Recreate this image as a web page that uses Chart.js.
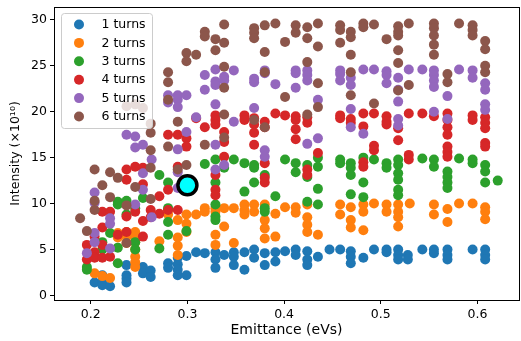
<!DOCTYPE html>
<html>
<head>
<meta charset="utf-8">
<script src="https://cdn.jsdelivr.net/npm/chart.js@4"></script>
<style>
  html, body { margin: 0; padding: 0; background: #fff; }
  #wrap { width: 521px; height: 341px; }
</style>
</head>
<body>
<div id="wrap"><canvas id="chart" width="521" height="341"></canvas></div>
<script>
/* Emittance vs intensity scatter, one series per number of turns */

const seriesLabels = ['1 turns', '2 turns', '3 turns', '4 turns', '5 turns', '6 turns'];
const seriesColors = ['#1f77b4', '#ff7f0e', '#2ca02c', '#d62728', '#9467bd', '#8c564b'];

const xTicks = [0.2, 0.3, 0.4, 0.5, 0.6];
const yTicks = [0, 5, 10, 15, 20, 25, 30];

// [emittance (eVs), intensity (x1e10)]
const turns1 = [
  [0.204,1.4],[0.212,2.2],[0.212,1.6],[0.212,1.1],[0.220,1.0],
  [0.237,3.3],[0.237,2.2],[0.237,1.8],[0.237,1.4],[0.254,3.1],[0.254,2.4],
  [0.262,2.7],[0.262,2.0],[0.280,3.5],[0.280,3.0],
  [0.290,4.1],[0.290,3.4],[0.290,2.8],[0.290,2.2],[0.299,4.3],[0.299,2.2],
  [0.309,4.7],[0.318,4.6],[0.329,4.7],[0.329,3.9],[0.329,3.0],[0.338,4.4],
  [0.348,4.7],[0.348,4.2],[0.348,3.3],[0.359,4.7],[0.359,2.8],
  [0.369,5.0],[0.369,4.1],[0.380,4.6],[0.380,3.3],[0.391,4.7],[0.391,3.7],
  [0.401,4.8],[0.412,5.0],[0.412,4.4],[0.424,4.8],[0.424,3.9],[0.424,3.3],
  [0.435,4.2],[0.447,5.0],[0.458,5.0],[0.469,4.8],[0.469,4.2],[0.469,3.5],
  [0.482,4.1],[0.493,5.0],[0.506,5.0],[0.506,4.7],[0.518,5.0],[0.518,4.4],[0.518,3.9],
  [0.528,4.4],[0.528,3.9],[0.543,5.0],[0.555,5.0],[0.555,4.6],
  [0.569,5.0],[0.569,4.4],[0.569,3.9],[0.595,5.0],[0.608,5.0],[0.608,4.4],[0.608,3.9]
];
const turns2 = [
  [0.204,2.4],[0.212,2.1],[0.220,1.9],[0.228,6.8],[0.228,6.3],
  [0.237,6.9],[0.237,6.4],[0.237,5.7],
  [0.246,6.9],[0.246,6.4],[0.246,5.8],[0.246,5.0],[0.246,4.2],[0.246,3.6],[0.246,3.1],
  [0.271,5.9],[0.280,9.3],[0.280,8.8],
  [0.290,8.2],[0.290,6.3],[0.290,5.4],[0.290,4.4],
  [0.299,8.8],[0.299,7.8],[0.299,6.9],[0.309,8.8],[0.318,9.5],[0.318,9.1],
  [0.329,9.5],[0.329,9.1],[0.329,6.6],[0.329,5.5],[0.338,9.5],[0.338,7.5],
  [0.348,9.5],[0.348,5.7],[0.359,9.9],[0.359,9.3],[0.359,8.8],
  [0.369,9.9],[0.369,9.1],[0.380,9.9],[0.380,8.2],[0.380,7.3],[0.380,6.2],
  [0.391,8.9],[0.391,6.4],[0.401,9.6],[0.412,9.6],[0.412,9.0],
  [0.424,9.9],[0.424,8.5],[0.424,7.7],[0.424,6.9],[0.435,6.6],
  [0.458,9.9],[0.458,8.8],[0.469,9.6],[0.469,8.2],[0.469,7.4],
  [0.482,9.9],[0.482,9.1],[0.482,7.1],[0.493,10.0],[0.506,9.9],[0.506,9.1],
  [0.518,9.9],[0.518,9.1],[0.518,8.5],[0.518,7.5],[0.530,10.0],
  [0.555,9.9],[0.555,8.8],[0.569,9.4],[0.569,8.0],[0.581,10.0],[0.595,10.0],
  [0.608,9.6],[0.608,9.1],[0.608,8.3]
];
const turns3 = [
  [0.196,3.1],[0.196,2.8],[0.204,4.2],[0.212,5.8],[0.212,5.0],[0.220,6.8],
  [0.228,10.2],[0.228,9.9],[0.228,5.2],[0.228,3.5],[0.237,10.3],[0.237,8.8],
  [0.246,9.5],[0.246,5.8],[0.246,5.0],[0.254,10.6],
  [0.271,13.1],[0.271,5.1],[0.280,12.3],[0.280,9.5],[0.280,8.0],[0.280,6.6],
  [0.299,7.0],[0.318,14.3],
  [0.329,14.8],[0.329,12.3],[0.329,9.9],[0.329,8.6],[0.329,8.2],[0.338,13.9],
  [0.348,14.8],[0.359,14.4],[0.359,11.3],[0.369,14.2],[0.369,13.9],[0.369,12.3],
  [0.380,13.1],[0.380,9.5],[0.380,9.1],[0.391,10.8],[0.401,14.8],
  [0.412,14.4],[0.412,13.4],[0.424,14.2],[0.424,12.9],[0.424,10.2],
  [0.435,15.0],[0.435,14.0],[0.435,11.6],[0.435,9.9],[0.458,14.8],[0.458,14.4],
  [0.469,14.4],[0.469,13.9],[0.469,13.1],[0.469,11.0],
  [0.482,15.0],[0.482,12.3],[0.482,10.7],[0.493,14.8],[0.506,14.4],[0.506,13.9],
  [0.518,14.8],[0.518,14.2],[0.518,13.3],[0.518,12.6],[0.518,11.5],[0.518,10.9],
  [0.543,14.9],[0.555,14.8],[0.555,14.0],
  [0.569,13.5],[0.569,12.9],[0.569,12.3],[0.569,11.7],[0.581,14.9],
  [0.595,14.8],[0.595,14.4],[0.608,14.2],[0.608,13.5],[0.608,12.3],[0.621,12.5]
];
const turns4 = [
  [0.196,5.5],[0.196,3.9],[0.204,6.4],[0.204,4.7],[0.204,4.1],
  [0.212,9.1],[0.212,7.4],[0.212,5.5],[0.212,4.1],[0.220,9.1],[0.220,4.2],[0.228,6.6],
  [0.237,13.7],[0.237,12.6],[0.237,8.6],[0.237,6.9],[0.246,14.0],[0.246,9.1],
  [0.254,13.9],[0.254,12.1],[0.254,8.1],[0.254,6.4],[0.262,9.3],[0.262,8.5],
  [0.271,10.8],[0.271,8.9],[0.280,17.5],[0.280,11.5],[0.280,9.3],
  [0.290,17.5],[0.290,14.0],[0.290,9.3],[0.299,17.1],[0.299,16.2],
  [0.309,19.3],[0.318,18.3],
  [0.329,19.6],[0.329,19.1],[0.329,18.6],[0.329,13.1],[0.329,11.5],[0.329,10.9],
  [0.338,17.8],[0.338,16.7],[0.338,15.1],[0.359,19.6],[0.359,19.1],
  [0.369,19.3],[0.369,18.6],[0.369,17.7],[0.369,16.4],
  [0.380,18.9],[0.380,18.3],[0.380,14.4],[0.380,12.8],[0.380,12.3],
  [0.391,19.8],[0.401,19.6],[0.412,19.5],[0.412,19.1],[0.412,18.1],[0.412,17.0],
  [0.424,19.4],[0.424,18.8],[0.424,13.7],[0.424,13.1],[0.435,15.5],
  [0.458,19.6],[0.458,19.3],[0.469,19.2],[0.469,18.8],
  [0.482,19.8],[0.482,18.4],[0.482,14.5],[0.482,14.0],
  [0.493,19.8],[0.493,16.3],[0.493,15.8],[0.506,19.5],[0.506,18.9],[0.506,18.6],
  [0.518,18.2],[0.518,16.9],[0.529,19.8],[0.529,15.3],[0.529,14.8],
  [0.543,19.8],[0.555,19.5],
  [0.569,19.8],[0.569,19.1],[0.569,18.3],[0.569,17.5],[0.569,16.2],[0.569,15.6],[0.569,15.1],
  [0.595,19.6],[0.595,19.1],
  [0.608,19.4],[0.608,18.8],[0.608,18.2],[0.608,16.6],[0.608,16.2]
];
const turns5 = [
  [0.196,4.6],[0.204,11.2],[0.204,10.1],[0.204,6.8],[0.204,5.8],
  [0.220,8.4],[0.220,7.8],[0.220,5.1],[0.237,17.5],
  [0.246,17.3],[0.246,16.1],[0.246,9.9],[0.254,16.4],[0.254,13.3],[0.254,11.5],
  [0.263,14.8],[0.263,8.5],[0.280,21.8],[0.280,21.0],
  [0.290,21.8],[0.290,21.3],[0.290,20.5],[0.290,15.9],[0.290,13.4],[0.290,11.7],
  [0.299,21.8],[0.299,17.8],[0.309,19.4],[0.318,24.0],[0.318,22.4],
  [0.329,24.6],[0.329,23.3],[0.329,22.9],[0.329,20.8],[0.329,16.4],[0.329,13.7],
  [0.338,23.8],[0.338,23.4],[0.338,14.2],[0.348,24.5],[0.348,18.9],
  [0.369,23.6],[0.369,23.2],[0.369,20.4],
  [0.380,24.5],[0.380,24.2],[0.380,15.8],[0.380,15.1],[0.391,23.0],
  [0.412,24.5],[0.412,24.2],[0.412,22.6],
  [0.424,24.5],[0.424,24.0],[0.424,23.4],[0.424,16.5],[0.435,21.3],[0.435,17.1],
  [0.458,24.5],[0.458,24.1],[0.458,23.4],
  [0.469,23.7],[0.469,22.9],[0.469,20.3],[0.469,18.3],[0.482,24.6],[0.482,17.6],
  [0.493,24.6],[0.506,24.4],[0.506,24.0],[0.506,23.1],
  [0.518,23.7],[0.518,22.4],[0.518,21.1],[0.518,19.2],[0.518,18.5],
  [0.529,24.6],[0.543,24.6],
  [0.555,24.5],[0.555,24.0],[0.555,23.4],[0.555,22.7],[0.555,20.0],
  [0.569,21.7],[0.569,19.2],[0.581,24.6],[0.595,24.5],[0.595,23.7],
  [0.608,23.1],[0.608,22.4],[0.608,20.8],[0.608,20.2]
];
const turns6 = [
  [0.189,8.4],[0.196,7.0],[0.204,13.7],[0.204,10.3],[0.204,9.3],[0.212,12.0],
  [0.220,13.4],[0.220,10.7],[0.228,12.8],
  [0.237,20.6],[0.237,9.8],[0.237,5.7],[0.246,20.8],[0.246,11.8],[0.254,20.4],
  [0.262,18.7],[0.262,17.7],[0.262,15.8],[0.262,13.9],[0.262,10.5],
  [0.280,24.3],[0.280,23.2],[0.280,21.3],[0.280,16.2],[0.290,18.9],[0.290,13.7],
  [0.299,26.4],[0.299,25.5],[0.299,14.2],[0.309,26.2],
  [0.318,28.7],[0.318,28.2],[0.318,16.4],[0.329,27.9],[0.329,26.7],
  [0.338,29.5],[0.338,27.5],[0.338,24.9],[0.338,22.6],[0.338,19.7],[0.338,17.2],
  [0.369,29.1],[0.369,28.6],[0.369,28.0],[0.369,19.1],
  [0.380,29.4],[0.380,26.5],[0.380,24.3],[0.380,18.3],[0.391,29.6],
  [0.401,27.6],[0.401,21.6],[0.412,29.4],[0.412,28.6],
  [0.424,29.2],[0.424,28.0],[0.424,25.4],[0.424,19.7],
  [0.435,29.6],[0.435,27.1],[0.435,23.1],[0.435,20.5],
  [0.458,29.4],[0.458,28.9],[0.458,27.5],
  [0.469,28.7],[0.469,28.1],[0.469,26.2],[0.469,24.3],[0.469,21.8],
  [0.482,29.6],[0.482,29.2],[0.493,29.5],[0.493,20.9],[0.506,27.9],
  [0.518,29.3],[0.518,28.7],[0.518,28.3],[0.518,26.7],[0.518,25.3],[0.518,22.3],
  [0.529,29.6],[0.529,22.9],
  [0.555,29.6],[0.555,29.1],[0.555,28.3],[0.555,27.3],[0.555,26.2],
  [0.569,24.1],[0.569,23.2],[0.581,29.6],
  [0.595,29.4],[0.595,28.9],[0.595,28.3],
  [0.608,27.7],[0.608,26.8],[0.608,25.0],[0.608,24.3]
];
const highlight = [[0.300, 12.0]];

const allSeries = [turns1, turns2, turns3, turns4, turns5, turns6];
const FONT = "'DejaVu Sans', sans-serif";

// matplotlib-style legend box in the upper left of the axes
const boxLegend = {
  id: 'boxLegend',
  afterDraw(chart) {
    const { ctx, chartArea } = chart;
    const x0 = chartArea.left + 7.5, y0 = chartArea.top + 6.5;
    const w = 91, h = 115, r = 3;
    ctx.save();
    ctx.beginPath();
    ctx.roundRect(x0, y0, w, h, r);
    ctx.fillStyle = 'rgba(255,255,255,0.8)';
    ctx.fill();
    ctx.strokeStyle = '#cccccc';
    ctx.lineWidth = 1;
    ctx.stroke();
    ctx.font = `12.5px ${FONT}`;
    ctx.textBaseline = 'middle';
    ctx.textAlign = 'left';
    seriesLabels.forEach((label, i) => {
      const cy = y0 + 11 + i * 18.4;
      ctx.beginPath();
      ctx.arc(x0 + 17.5, cy, 5, 0, Math.PI * 2);
      ctx.fillStyle = seriesColors[i];
      ctx.fill();
      ctx.fillStyle = '#000';
      ctx.fillText(label, x0 + 40, cy + 0.5);
    });
    ctx.restore();
  }
};

// top and right spines
const frame = {
  id: 'frame',
  beforeDatasetsDraw(chart) {
    const { ctx, chartArea: a } = chart;
    ctx.save();
    ctx.strokeStyle = '#000';
    ctx.lineWidth = 1;
    ctx.strokeRect(a.left + 0.5, a.top + 0.5, a.right - a.left, a.bottom - a.top);
    ctx.restore();
  }
};

const datasets = allSeries.map((pts, i) => ({
  label: seriesLabels[i],
  data: pts.map(([x, y]) => ({ x, y })),
  backgroundColor: seriesColors[i],
  borderWidth: 0,
  pointRadius: 5,
  pointHoverRadius: 5,
  order: 10 - i
}));
datasets.push({
  label: 'selected',
  data: highlight.map(([x, y]) => ({ x, y })),
  backgroundColor: '#00ffff',
  borderColor: '#000',
  borderWidth: 3.5,
  pointRadius: 9.5,
  order: 0
});

new Chart(document.getElementById('chart'), {
  type: 'scatter',
  data: { datasets },
  plugins: [frame, boxLegend],
  options: {
    responsive: false,
    animation: false,
    layout: { autoPadding: false, padding: { top: 7, right: 2, left: 0, bottom: 0 } },
    plugins: { legend: { display: false }, tooltip: { enabled: false } },
    scales: {
      x: {
        type: 'linear',
        min: 0.162,
        max: 0.643,
        afterBuildTicks: (axis) => { axis.ticks = xTicks.map(v => ({ value: v })); },
        afterFit: (axis) => { axis.height = 41; axis.paddingLeft = 0; axis.paddingRight = 0; },
        grid: { drawOnChartArea: false, drawTicks: true, tickLength: 4, color: '#000' },
        border: { display: true, color: '#000' },
        ticks: {
          color: '#000',
          padding: 3,
          maxRotation: 0,
          font: { family: FONT, size: 12.5 },
          callback: (v) => v.toFixed(1)
        },
        title: {
          display: true,
          text: 'Emittance (eVs)',
          color: '#000',
          font: { family: FONT, size: 14 },
          padding: { top: 2, bottom: 2 }
        }
      },
      y: {
        type: 'linear',
        min: -0.5,
        max: 31.4,
        afterBuildTicks: (axis) => { axis.ticks = yTicks.map(v => ({ value: v })); },
        afterFit: (axis) => { axis.width = 54; axis.paddingTop = 0; axis.paddingBottom = 0; },
        grid: { drawOnChartArea: false, drawTicks: true, tickLength: 4, color: '#000' },
        border: { display: true, color: '#000' },
        ticks: {
          color: '#000',
          padding: 3,
          font: { family: FONT, size: 12.5 },
          callback: (v) => String(v)
        },
        title: {
          display: true,
          text: 'Intensity (×10¹⁰)',
          color: '#000',
          font: { family: FONT, size: 12.5 },
          padding: { top: 8, bottom: 2 }
        }
      }
    }
  }
});
</script>
</body>
</html>
